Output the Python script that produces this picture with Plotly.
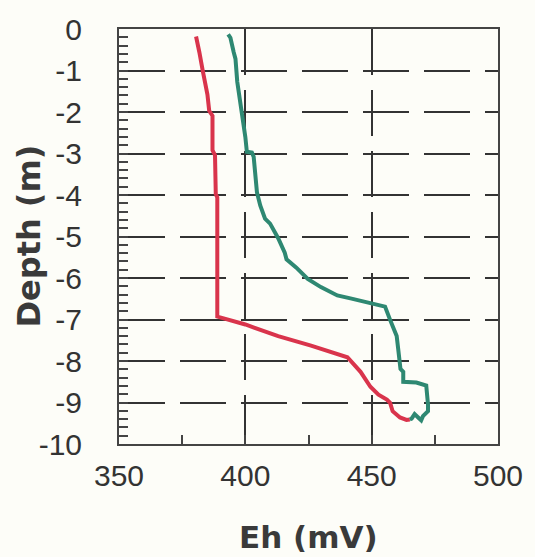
import plotly.graph_objects as go

# Data
red_eh = [380.5, 381.1, 381.8, 383.1, 384.4, 385.0, 385.7, 387.0, 387.0, 388.0, 388.3,
          388.9, 388.9, 388.9, 400.0, 413.0, 426.0, 440.4, 445.6, 449.5, 452.7, 456.0,
          457.3, 458.3, 461.2, 463.8, 465.1]
red_depth = [-0.18, -0.32, -0.56, -0.99, -1.35, -1.58, -1.97, -2.09, -2.92, -3.04, -3.98,
             -4.06, -5.43, -6.93, -7.12, -7.40, -7.63, -7.91, -8.26, -8.62, -8.81, -8.93,
             -9.01, -9.21, -9.36, -9.42, -9.41]

green_eh = [393.2, 394.1, 395.4, 396.1, 396.8, 398.0, 399.3, 400.0, 400.6, 402.6, 403.3,
            404.6, 405.9, 407.8, 409.8, 413.0, 415.6, 416.3, 420.2, 424.7, 429.9, 436.4,
            441.6, 449.5, 455.3, 457.3, 459.9, 460.5, 461.2, 461.4, 462.5, 462.5, 467.7,
            471.6, 472.3, 472.3, 470.3, 469.6, 468.4, 467.0, 465.8, 465.1]
green_depth = [-0.13, -0.21, -0.56, -0.72, -1.27, -1.74, -2.21, -2.60, -2.96, -2.98, -3.08,
               -3.94, -4.25, -4.57, -4.69, -5.04, -5.39, -5.55, -5.75, -6.02, -6.22, -6.42,
               -6.49, -6.61, -6.69, -7.01, -7.40, -7.71, -8.03, -8.19, -8.26, -8.50, -8.52,
               -8.59, -9.05, -9.21, -9.33, -9.43, -9.36, -9.28, -9.39, -9.41]

x_ticks = [350, 400, 450, 500]
x_labels = ["350", "400", "450", "500"]
y_ticks = [0, -1, -2, -3, -4, -5, -6, -7, -8, -9, -10]
y_labels = ["0", "-1", "-2", "-3", "-4", "-5", "-6", "-7", "-8", "-9", "-10"]

fig = go.Figure()
fig.add_trace(go.Scatter(x=red_eh, y=red_depth, mode="lines",
                         line=dict(color="#d9344c", width=4), showlegend=False))
fig.add_trace(go.Scatter(x=green_eh, y=green_depth, mode="lines",
                         line=dict(color="#2e8872", width=4), showlegend=False))

axis_common = dict(
    showline=True, linecolor="#444444", linewidth=2, mirror=True,
    showgrid=True, gridcolor="#333333", gridwidth=1.5, griddash="46px,15px",
    zeroline=False, ticks="inside", ticklen=9, tickwidth=1.5, tickcolor="#444444",
    tickfont=dict(family="Liberation Sans, Arial, sans-serif", size=30, color="#333333"),
)

fig.update_xaxes(range=[350, 500], tickvals=x_ticks, ticktext=x_labels,
                 minor=dict(dtick=25, ticks="inside", ticklen=9, tickwidth=1.5,
                            tickcolor="#444444", showgrid=False),
                 ticklabelstandoff=4, **axis_common)
fig.update_yaxes(range=[-10, 0], tickvals=y_ticks, ticktext=y_labels,
                 minor=dict(dtick=0.2, tick0=0, ticks="inside", ticklen=9, tickwidth=1.5,
                            tickcolor="#444444", showgrid=False),
                 ticklabelstandoff=29, **axis_common)

fig.update_layout(
    width=535, height=557,
    margin=dict(l=119, r=31, t=20, b=113),
    paper_bgcolor="#fdfdf8", plot_bgcolor="#fdfdf8",
    annotations=[
        dict(text="<b>Eh (mV)</b>", xref="paper", yref="paper", x=0.5, y=-0.225,
             xanchor="center", yanchor="middle", showarrow=False,
             font=dict(family="DejaVu Sans, sans-serif", size=31, color="#3a3a3a")),
        dict(text="<b>Depth (m)</b>", xref="paper", yref="paper", x=-0.24, y=0.5,
             xanchor="center", yanchor="middle", showarrow=False, textangle=-90,
             font=dict(family="DejaVu Sans, sans-serif", size=32, color="#3a3a3a")),
    ],
)

fig.write_html("out.html")
